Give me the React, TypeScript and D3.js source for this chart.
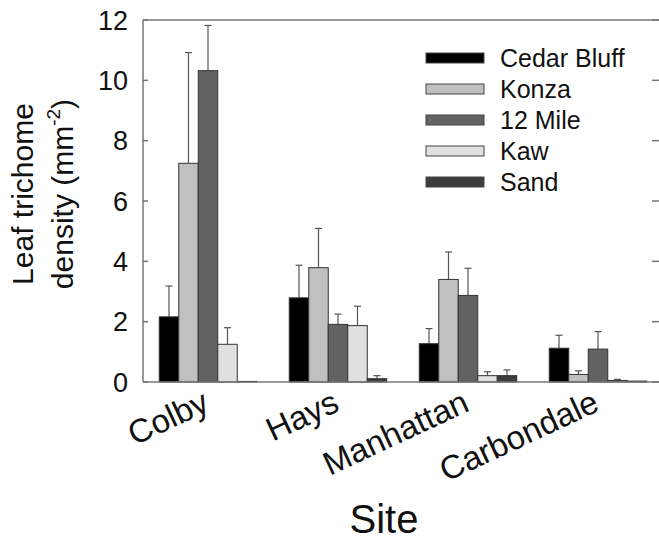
import React from 'react';
import { scaleBand, scaleLinear } from 'd3';

const width = 659;
const height = 543;

const sites = ['Colby', 'Hays', 'Manhattan', 'Carbondale'];
const populations = ['Cedar Bluff', 'Konza', '12 Mile', 'Kaw', 'Sand'];
const fills = ['#000000', '#c0c0c0', '#626262', '#e0e0e0', '#3c3c3c'];

// mean density per site, one array per population (site order above)
const cedarBluff = [2.16, 2.79, 1.27, 1.12];
const konza = [7.25, 3.79, 3.4, 0.25];
const twelveMile = [10.32, 1.91, 2.87, 1.09];
const kaw = [1.25, 1.87, 0.21, 0.05];
const sand = [0.02, 0.11, 0.21, 0.03];
// upper end of error bar
const cedarBluffErr = [3.18, 3.87, 1.77, 1.55];
const konzaErr = [10.92, 5.09, 4.31, 0.37];
const twelveMileErr = [11.82, 2.25, 3.77, 1.67];
const kawErr = [1.8, 2.51, 0.34, 0.09];
const sandErr = [0.02, 0.21, 0.4, 0.04];

const yTicks = [0, 2, 4, 6, 8, 10, 12];

const means = [cedarBluff, konza, twelveMile, kaw, sand];
const uppers = [cedarBluffErr, konzaErr, twelveMileErr, kawErr, sandErr];

const left = 143;
const right = 660;
const top = 20;
const bottom = 382;

const x = scaleBand().domain(sites).range([left, 663]).paddingInner(0.25).paddingOuter(0.125);
const xInner = scaleBand().domain(populations).range([0, x.bandwidth()]);
const y = scaleLinear().domain([0, 12]).range([bottom, top]);

const font = '"Liberation Sans", Arial, sans-serif';

const App = () => {
  return (
    <svg
      width={width}
      height={height}
      style={{ position: 'absolute', left: 0, top: 0 }}
      fontFamily={font}
    >
      <rect width={width} height={height} fill="#fff" />

      {sites.map((site, si) => (
        <g key={site} transform={`translate(${x(site)},0)`}>
          {populations.map((p, pi) => {
            const v = means[pi][si];
            const up = uppers[pi][si];
            const bx = xInner(p) as number;
            const cx = bx + xInner.bandwidth() / 2;
            return (
              <g key={p}>
                {up > v + 0.01 && (
                  <g stroke="#555" strokeWidth={1.2}>
                    <line x1={cx} x2={cx} y1={y(v)} y2={y(up)} />
                    <line x1={cx - 3.5} x2={cx + 3.5} y1={y(up)} y2={y(up)} />
                  </g>
                )}
                <rect
                  x={bx}
                  y={y(v)}
                  width={xInner.bandwidth()}
                  height={bottom - y(v)}
                  fill={fills[pi]}
                  stroke="#333"
                  strokeWidth={1}
                />
              </g>
            );
          })}
        </g>
      ))}

      {/* frame */}
      <g stroke="#777" strokeWidth={1.5} fill="none">
        <line x1={left} x2={width} y1={top} y2={top} />
        <line x1={left} x2={width} y1={bottom} y2={bottom} />
        <line x1={left} x2={left} y1={top} y2={bottom} />
        <line x1={right} x2={right} y1={top} y2={bottom} />
        {yTicks.map((t) => (
          <g key={t}>
            <line x1={left} x2={left + 5} y1={y(t)} y2={y(t)} />
            <line x1={right - 8} x2={right} y1={y(t)} y2={y(t)} />
          </g>
        ))}
      </g>

      {yTicks.map((t) => (
        <text key={t} x={128} y={y(t) + 9.5} textAnchor="end" fontSize={27} fill="#111">
          {t}
        </text>
      ))}

      {sites.map((site) => (
        <text
          key={site}
          transform={`translate(${(x(site) as number) + x.bandwidth() / 2 + 3},410) rotate(-25)`}
          textAnchor="end"
          fontSize={33}
          fill="#111"
        >
          {site}
        </text>
      ))}

      <g transform="translate(33,194) rotate(-90)" fontSize={30} fill="#111" textAnchor="middle">
        <text x={0} y={0}>Leaf trichome</text>
        <text x={0} y={40}>
          density (mm<tspan dy={-13} fontSize={19}>-2</tspan>
          <tspan dy={13}>)</tspan>
        </text>
      </g>

      <text x={384} y={533} textAnchor="middle" fontSize={40} fill="#111">
        Site
      </text>

      <g>
        {populations.map((p, i) => (
          <g key={p} transform={`translate(426,${58 + i * 31})`}>
            <rect x={0} y={-5} width={58} height={10} fill={fills[i]} stroke="#444" strokeWidth={1} />
            <text x={74} y={9} fontSize={25} fill="#111">
              {p}
            </text>
          </g>
        ))}
      </g>
    </svg>
  );
};

export default App;
